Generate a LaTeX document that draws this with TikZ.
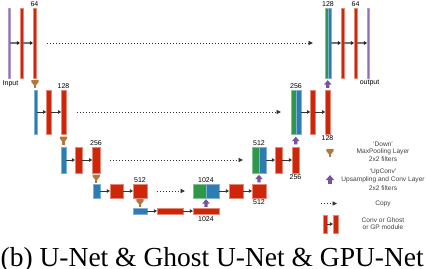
\documentclass[tikz,border=0pt]{standalone}
\usepackage{fontspec}
\setmainfont{Liberation Sans}
\newfontfamily\capfont{Liberation Serif}
\usetikzlibrary{arrows.meta,positioning,calc}
\definecolor{ured}{RGB}{206,38,8}
\definecolor{ublue}{RGB}{46,124,180}
\definecolor{ugreen}{RGB}{46,152,72}
\definecolor{upurple}{RGB}{120,82,158}
\definecolor{uinput}{RGB}{142,112,180}
\definecolor{ubrown}{RGB}{178,120,62}
\tikzset{
  bx/.style={rectangle, inner sep=0pt, outer sep=0pt, line width=0.4pt},
  sz/.style 2 args={minimum width=#1pt, minimum height=#2pt},
  rbar/.style={bx, fill=ured, draw=ured!55!white},
  bbar/.style={bx, fill=ublue, draw=ublue!60!white},
  gbar/.style={bx, fill=ugreen, draw=ugreen!60!white},
  pbar/.style={bx, fill=uinput, draw=uinput!70!white},
  lab/.style={font=\fontsize{7}{8}\selectfont, inner sep=0pt},
  leg/.style={font=\fontsize{6.6}{7}\selectfont, text=black!75, inner sep=0pt},
  flow/.style={draw=black!80, line width=0.8pt, -{Triangle[length=3.2pt,width=3.6pt]}},
  flowg/.style={draw=black!55, line width=1.4pt, -{Triangle[length=3.2pt,width=3.8pt,color=black!85]}},
  copyarr/.style={draw=black!80, line width=0.7pt, dash pattern=on 0.8pt off 2.2pt, -{Triangle[length=4.5pt,width=4.2pt]}},
  downarr/.pic={\fill[ubrown] (-3.7,-4) -- (3.7,-4) -- (3.7,-2) -- (0,2.5) -- (-3.7,-2) -- cycle;
                \fill[ubrown] (-1.1,0) rectangle (1.1,4);},
  uparr/.pic={\fill[upurple] (0,-3.8) -- (3.8,0.6) -- (1.6,0.6) -- (1.6,3.8) -- (-1.6,3.8) -- (-1.6,0.6) -- (-3.8,0.6) -- cycle;}
}
\begin{document}
\begin{tikzpicture}[x=1pt,y=-1pt]
\useasboundingbox (0,0) rectangle (426,268);
% ---------- level 1 ----------
\node[pbar, sz={2}{70}] (in1) at (9,43) {};
\node[rbar, sz={3}{70}] (r1a) at (21.5,43) {};
\node[rbar, sz={3}{70}] (r1b) at (34.5,43) {};
\node[gbar, sz={3}{70}] (g1) at (326.5,43) {};
\node[bbar, sz={3}{70}] (b1) at (329.5,43) {};
\node[rbar, sz={3}{70}] (r1c) at (342.5,43) {};
\node[rbar, sz={3}{70}] (r1d) at (355.5,43) {};
\node[pbar, sz={2}{70}] (out) at (368,43) {};
% ---------- level 2 ----------
\node[bbar, sz={3}{44}] (b2) at (35.5,112) {};
\node[rbar, sz={4.5}{44}] (r2a) at (48.5,112) {};
\node[rbar, sz={4.5}{44}] (r2b) at (63.5,112) {};
\node[gbar, sz={5}{44}] (g2) at (293.5,112) {};
\node[bbar, sz={5}{44}] (b2r) at (298.5,112) {};
\node[rbar, sz={4.5}{44}] (r2c) at (312.5,112) {};
\node[rbar, sz={4.5}{44}] (r2d) at (327.5,112) {};
% ---------- level 3 ----------
\node[bbar, sz={5}{26}] (b3) at (63.5,160) {};
\node[rbar, sz={7}{26}] (r3a) at (78.5,160) {};
\node[rbar, sz={7.5}{26}] (r3b) at (96,160) {};
\node[gbar, sz={7}{26}] (g3) at (255.5,160) {};
\node[bbar, sz={7}{26}] (b3r) at (262.5,160) {};
\node[rbar, sz={7}{26}] (r3c) at (278.5,160) {};
\node[rbar, sz={7}{26}] (r3d) at (295.5,160) {};
% ---------- level 4 ----------
\node[bbar, sz={7}{14}] (b4) at (96.5,191) {};
\node[rbar, sz={13}{14}] (r4a) at (116.5,191) {};
\node[rbar, sz={14}{14}] (r4b) at (140,191) {};
\node[gbar, sz={13}{14}] (g4) at (199.5,191) {};
\node[bbar, sz={13}{14}] (b4r) at (212.5,191) {};
\node[rbar, sz={14}{14}] (r4c) at (236,191) {};
\node[rbar, sz={14}{14}] (r4d) at (259,191) {};
% ---------- level 5 ----------
\node[bbar, sz={14}{6}] (b5) at (140,211) {};
\node[rbar, sz={26}{6}] (r5a) at (170,211) {};
\node[rbar, sz={26}{6}] (r5b) at (206,211) {};
% ---------- labels ----------
\node[lab, above=1pt of r1b] (l1) {64};
\node[lab, above=1pt of g1.north east] (l2) {128};
\node[lab, above=1pt of r1d] (l3) {64};
\node[lab, below=2pt of in1, xshift=1.5pt] (lin) {Input};
\node[lab, below=2pt of out, xshift=1.5pt] (lout) {output};
\node[lab, above=1pt of r2b] (l4) {128};
\node[lab, above=1pt of g2.north east] (l5) {256};
\node[lab, below=1.5pt of r2d] (l6) {128};
\node[lab, above=1.5pt of r3b] (l7) {256};
\node[lab, above=1.5pt of g3.north east] (l8) {512};
\node[lab, below=1.5pt of r3d] (l9) {256};
\node[lab, above=1.5pt of r4b] (l10) {512};
\node[lab, above=1.5pt of g4.north east] (l11) {1024};
\node[lab, below=1.5pt of r4d] (l12) {512};
\node[lab, below=2.5pt of r5b] (l13) {1024};
% ---------- flow arrows ----------
\draw[flowg] (in1) -- (r1a);
\draw[flowg] (r1a) -- (r1b);
\draw[flowg] (b1) -- (r1c);
\draw[flowg] (r1c) -- (r1d);
\draw[flowg] (r1d) -- (out);
\draw[flow] (b2) -- (r2a);
\draw[flow] (r2a) -- (r2b);
\draw[flow] (b2r) -- (r2c);
\draw[flow] (r2c) -- (r2d);
\draw[flow] (b3) -- (r3a);
\draw[flow] (r3a) -- (r3b);
\draw[flow] (b3r) -- (r3c);
\draw[flow] (r3c) -- (r3d);
\draw[flow] (b4) -- (r4a);
\draw[flow] (r4a) -- (r4b);
\draw[flow] (b4r) -- (r4c);
\draw[flow] (r4c) -- (r4d);
\draw[flow] (b5) -- (r5a);
\draw[flow] (r5a) -- (r5b);
% ---------- copy arrows ----------
\draw[copyarr, shorten <=11pt, shorten >=12pt] (r1b) -- (g1);
\draw[copyarr, shorten <=11pt, shorten >=10pt] (r2b) -- (g2);
\draw[copyarr, shorten <=10pt, shorten >=9pt] (r3b) -- (g3);
\draw[copyarr, shorten <=10pt, shorten >=8pt] (r4b) -- (g4);
% ---------- down / up arrows ----------
\pic at ($(r1b.south)!0.5!(b2.north)$) {downarr};
\pic at ($(r2b.south)!0.5!(b3.north)$) {downarr};
\pic at ($(r3b.south)!0.5!(b4.north)$) {downarr};
\pic at ($(r4b.south)!0.5!(b5.north)$) {downarr};
\pic at ($(r2d.north)!0.5!(b1.south west)$) {uparr};
\pic at ($(r3d.north)!0.5!(b2r.south west)$) {uparr};
\pic at ($(r4d.north)!0.5!(b3r.south west)$) {uparr};
\pic at ($(r5b.north)!0.5!(b4r.south west)$) {uparr};
% ---------- legend ----------
\pic at (330,153) {downarr};
\node[leg] (t1) at (383,144) {‘Down’};
\node[leg] (t2) at (383,151.5) {MaxPooling Layer};
\node[leg] (t3) at (383,159) {2x2 filters};
\pic[scale=1.15] at (330,179.5) {uparr};
\node[leg] (t4) at (383,172) {‘UpConv’};
\node[leg] (t5) at (383,180) {Upsampling and Conv Layer};
\node[leg] (t6) at (383,188) {2x2 filters};
\coordinate (cpa) at (321,203.5);
\coordinate (cpb) at (337,203.5);
\draw[copyarr] (cpa) -- (cpb);
\node[leg] (t7) at (383,204) {Copy};
\node[rbar, sz={4.5}{18}] (lg1) at (325,224) {};
\node[rbar, sz={5}{18}] (lg2) at (335.5,224) {};
\draw[flow] (lg1) -- (lg2);
\node[leg] (t8) at (383,220) {Conv or Ghost};
\node[leg] (t9) at (383,227.5) {or GP module};
% ---------- caption ----------
\node[anchor=base west, inner sep=0pt, font=\capfont\fontsize{27.5}{30}\selectfont] (cap) at (0.5,266.5) {(b) U-Net \& Ghost U-Net \& GPU-Net};
\end{tikzpicture}
\end{document}
